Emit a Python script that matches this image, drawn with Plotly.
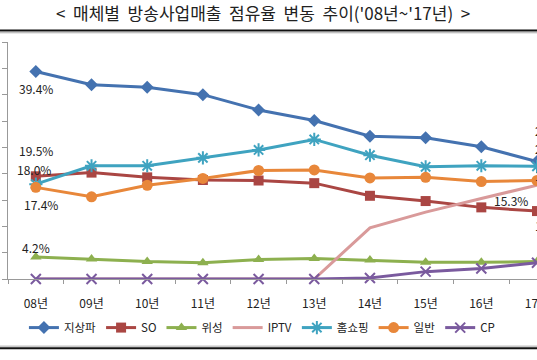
import plotly.graph_objects as go

years = ['08년', '09년', '10년', '11년', '12년', '13년', '14년', '15년', '16년', '17년']
terrestrial = [39.4, 36.9, 36.4, 35.0, 32.1, 30.1, 27.1, 26.8, 25.1, 22.3]
so = [19.5, 20.2, 19.3, 18.8, 18.7, 18.2, 15.8, 14.8, 13.6, 12.9]
satellite = [4.2, 3.8, 3.3, 3.1, 3.7, 3.9, 3.6, 3.2, 3.2, 3.3]
iptv = [0, 0, 0, 0, 0, 0, 9.7, 12.7, 15.3, 17.8]
homeshopping = [18.0, 21.5, 21.5, 23.0, 24.5, 26.5, 23.5, 21.3, 21.5, 21.4]
general = [17.4, 15.6, 17.8, 19.1, 20.6, 20.7, 19.2, 19.3, 18.5, 18.7]
cp = [0, 0, 0, 0, 0, 0, 0.2, 1.4, 2.0, 3.1]

names = ['지상파', 'SO', '위성', 'IPTV', '홈쇼핑', '일반', 'CP']
series = [terrestrial, so, satellite, iptv, homeshopping, general, cp]
colors = ['#4472B0', '#AA4643', '#8DB04F', '#D99A9A', '#3FA3C0', '#E8873A', '#7A5A9E']
symbols = ['diamond', 'square', 'triangle-up', None, 'asterisk-open', 'circle', 'x-thin-open']
sizes = [10, 10, 10, 0, 11, 11, 10]

fig = go.Figure()
for n, s, c, sym, sz in zip(names, series, colors, symbols, sizes):
    if sym is None:
        fig.add_trace(go.Scatter(x=years, y=s, name=n, mode='lines',
                                 line=dict(color=c, width=3), cliponaxis=False))
    else:
        mk = dict(symbol=sym, size=sz, color=c)
        if sym.endswith('open'):
            mk['line'] = dict(color=c, width=2)
        fig.add_trace(go.Scatter(x=years, y=s, name=n, mode='lines+markers',
                                 line=dict(color=c, width=3), marker=mk, cliponaxis=False))

lab_font = dict(family='Noto Sans CJK KR', size=12, color='#222')
labels = [
    (years[0], terrestrial[0], '39.4%', 0, -17),
    (years[0], so[0], '19.5%', 0, 26),
    (years[0], homeshopping[0], '18.0%', -2, 15),
    (years[0], general[0], '17.4%', 5, -17),
    (years[0], satellite[0], '4.2%', 0, 9),
    (years[8], iptv[8], '15.3%', 30, -2),
]
for x, y, t, xs, ys in labels:
    fig.add_annotation(x=x, y=y, text=t, showarrow=False, xshift=xs, yshift=ys,
                       font=lab_font, xref='x', yref='y')

edge = [(terrestrial[9], '22.3%', 31), (homeshopping[9], '21.4%', 18),
        (general[9], '18.7%', 5), (so[9], '12.9%', -14)]
for y, t, ys in edge:
    fig.add_annotation(x=years[9], y=y, text=t, showarrow=False, xanchor='left',
                       xshift=-4, yshift=ys, font=lab_font)

fig.update_layout(
    width=537, height=360,
    margin=dict(l=8, r=0, t=42, b=81, autoexpand=False),
    paper_bgcolor='white', plot_bgcolor='white',
    title=dict(text="&lt;  매체별  방송사업매출  점유율  변동  추이('08년~'17년)  &gt;",
               x=0.49, xanchor='center', y=1 - 14 / 360, yanchor='middle', yref='container',
               font=dict(family='Noto Sans CJK KR', size=17, color='#222')),
    showlegend=True,
    legend=dict(orientation='h', x=0.48, xanchor='center', y=-0.205, yanchor='middle',
                font=dict(family='Noto Sans CJK KR', size=11.5, color='#222'),
                itemwidth=30, traceorder='normal', bgcolor='rgba(0,0,0,0)'),
    xaxis=dict(type='category', range=[-0.5, 9.0], showgrid=False, showline=True,
               linecolor='#999', linewidth=1, ticks='outside', tickson='boundaries',
               ticklen=4, tickcolor='#999', ticklabelstandoff=14, automargin=False,
               tickfont=dict(family='Noto Sans CJK KR', size=12, color='#222')),
    yaxis=dict(range=[0, 45], dtick=5, showgrid=False, showline=True, linecolor='#999',
               linewidth=1, ticks='outside', ticklen=5, tickcolor='#999', automargin=False,
               showticklabels=False, zeroline=False),
)

def py(px):
    return (278.5 - px) / 236.5

fig.add_shape(type='line', xref='paper', yref='paper', x0=-0.02, x1=1.02,
              y0=py(30.5), y1=py(30.5), line=dict(color='#111', width=2))
fig.add_shape(type='line', xref='paper', yref='paper', x0=-0.02, x1=1.02,
              y0=py(32.8), y1=py(32.8), line=dict(color='#aaa', width=1))
fig.add_shape(type='line', xref='paper', yref='paper', x0=-0.02, x1=1.02,
              y0=py(347.5), y1=py(347.5), line=dict(color='#111', width=2))
fig.add_shape(type='line', xref='paper', yref='paper', x0=-0.02, x1=1.02,
              y0=py(345.5), y1=py(345.5), line=dict(color='#aaa', width=1))

fig.write_html('out.html', config={'displayModeBar': False},
               post_script="document.body.style.margin='0';")
